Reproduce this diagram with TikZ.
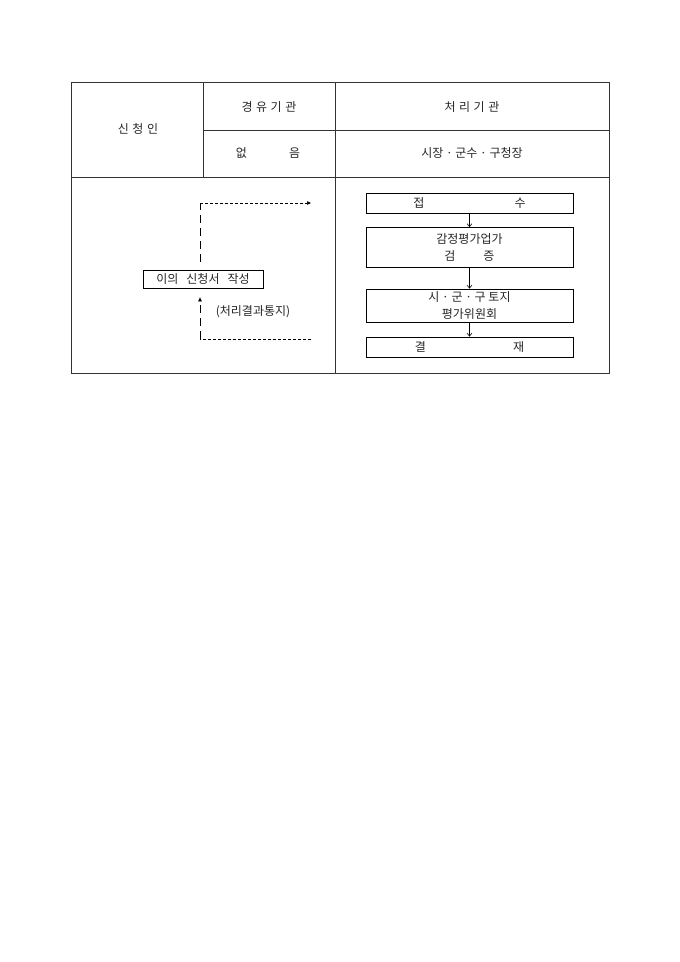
\documentclass[tikz,border=0pt]{standalone}
\usepackage{fontspec}
\setmainfont{Noto Sans CJK KR}
\usetikzlibrary{arrows.meta}
\tikzset{tbl/.style={line width=0.8pt, draw=black!80}}
\tikzset{label/.style={inner sep=0pt, text=black!85, font=\fontsize{12}{17}\selectfont, align=center}}
\tikzset{stepbox/.style={draw, line width=0.8pt, minimum width=207pt, inner sep=0pt, text=black!85, font=\fontsize{12}{17}\selectfont, align=center}}
\tikzset{longdash/.style={line width=0.6pt, dash pattern=on 8pt off 5pt}}
\tikzset{shortdash/.style={line width=0.6pt, dash pattern=on 3pt off 2pt}}
\tikzset{flow/.style={line width=0.6pt, -{Straight Barb[length=3pt,width=5pt]}}}
\newcommand{\gap}{\hspace{3.5pt}}

\begin{document}
\begin{tikzpicture}[x=1pt,y=-1pt]
		\fill[white] (0,0) rectangle (680,962);
		\useasboundingbox (0,0) rectangle (680,962);
		% table
		\draw[tbl] (71,82) rectangle (609,373);
		\draw[tbl] (203,82) -- (203,177);
		\draw[tbl] (335,82) -- (335,373);
		\draw[tbl] (203,130) -- (609,130);
		\draw[tbl] (71,177) -- (609,177);
		\node[label] (applicant) at (138,129) {신\gap 청\gap 인};
		\node[label] (viahead) at (269,107) {경\gap 유\gap 기\gap 관};
		\node[label] (prochead) at (472,107) {처\gap 리\gap 기\gap 관};
		\node[label] (vianone) at (268,153) {없\hspace{42pt}음};
		\node[label] (procby) at (472,153) {시장 · 군수 · 구청장};
		% left flow
		\node[stepbox, minimum width=120pt, minimum height=18pt] (apply) at (203,279) {이의\hspace{8pt}신청서\hspace{8pt}작성};
		\node[label] (notice) at (253,312) {(처리결과통지)};
		\coordinate (sendcorner) at (200,203);
		\coordinate (sendend) at (311,203);
		\coordinate (replycorner) at (200,339);
		\coordinate (replyend) at (311,339);
		\draw[longdash] ([xshift=-3pt,yshift=8pt]apply.north) -- (sendcorner);
		\draw[shortdash, -{Triangle[length=4pt,width=3.5pt]}] (sendcorner) -- (sendend);
		\draw[shortdash] (replyend) -- (replycorner);
		\draw[longdash, -{Triangle[length=4pt,width=3.5pt]}] (replycorner) -- ([xshift=-3pt,yshift=-9pt]apply.south);
		% right flow
		\node[stepbox, minimum height=20pt] (receipt) at (469.5,203) {접\hspace{90pt}수};
		\node[stepbox, minimum height=40pt] (review) at (469.5,247.5) {감정평가업가\\검\hspace{28pt}증};
		\node[stepbox, minimum height=33pt] (committee) at (469.5,305.5) {시 · 군 · 구 토지\\평가위원회};
		\node[stepbox, minimum height=20pt] (approve) at (469.5,347) {결\hspace{87pt}재};
		\draw[flow] (receipt) -- (review);
		\draw[flow] (review) -- (committee);
		\draw[flow] (committee) -- (approve);
\end{tikzpicture}
\end{document}
